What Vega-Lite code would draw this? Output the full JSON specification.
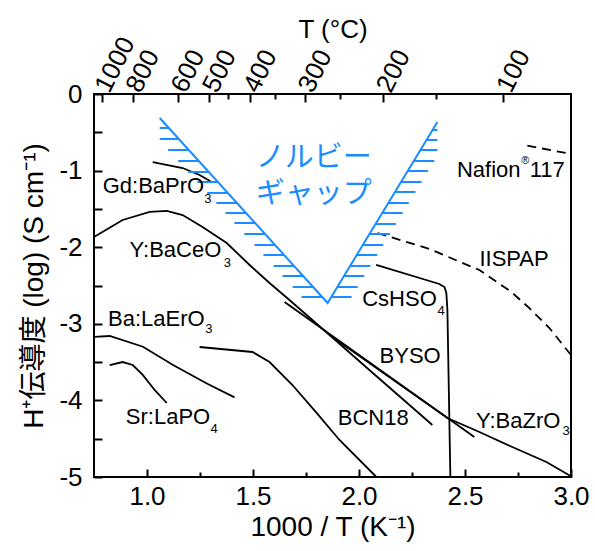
{
  "$schema": "https://vega.github.io/schema/vega-lite/v6.json",
  "width": 477,
  "height": 383,
  "autosize": "none",
  "padding": {"left": 94, "top": 94, "right": 24, "bottom": 74},
  "background": "white",
  "config": {
    "view": {"stroke": "black", "strokeWidth": 2},
    "font": "Liberation Sans",
    "axis": {
      "domain": false,
      "grid": false,
      "tickColor": "black",
      "tickWidth": 2,
      "labelColor": "black",
      "titleColor": "black",
      "labelFont": "Liberation Sans",
      "titleFont": "Liberation Sans, Noto Sans CJK JP",
      "labelFontSize": 26,
      "titleFontSize": 28,
      "titleFontWeight": "normal",
      "labelFlush": false,
      "labelOverlap": false
    }
  },
  "datasets": {
    "curves": [
      {"s": "Gd", "o": 1, "x": 1.027, "y": -0.888},
      {"s": "Gd", "o": 2, "x": 1.168, "y": -0.966},
      {"s": "Gd", "o": 3, "x": 1.248, "y": -1.057},
      {"s": "Gd", "o": 4, "x": 1.305, "y": -1.149},
      {"s": "YCe", "o": 1, "x": 0.75, "y": -1.867},
      {"s": "YCe", "o": 2, "x": 0.885, "y": -1.645},
      {"s": "YCe", "o": 3, "x": 1.013, "y": -1.54},
      {"s": "YCe", "o": 4, "x": 1.093, "y": -1.527},
      {"s": "YCe", "o": 5, "x": 1.168, "y": -1.58},
      {"s": "YCe", "o": 6, "x": 1.262, "y": -1.736},
      {"s": "YCe", "o": 7, "x": 1.376, "y": -1.945},
      {"s": "YCe", "o": 8, "x": 1.484, "y": -2.232},
      {"s": "YCe", "o": 9, "x": 1.578, "y": -2.467},
      {"s": "YCe", "o": 10, "x": 1.672, "y": -2.689},
      {"s": "YCe", "o": 11, "x": 1.861, "y": -3.146},
      {"s": "YCe", "o": 12, "x": 2.049, "y": -3.603},
      {"s": "YCe", "o": 13, "x": 2.346, "y": -4.321},
      {"s": "BYSO", "o": 1, "x": 1.649, "y": -2.715},
      {"s": "BYSO", "o": 2, "x": 2.544, "y": -4.478},
      {"s": "YZr", "o": 1, "x": 1.861, "y": -3.146},
      {"s": "YZr", "o": 2, "x": 2.417, "y": -4.23},
      {"s": "YZr", "o": 3, "x": 2.568, "y": -4.413},
      {"s": "YZr", "o": 4, "x": 2.723, "y": -4.608},
      {"s": "YZr", "o": 5, "x": 2.884, "y": -4.804},
      {"s": "YZr", "o": 6, "x": 3.0, "y": -4.99},
      {"s": "BaLa", "o": 1, "x": 0.75, "y": -3.172},
      {"s": "BaLa", "o": 2, "x": 0.824, "y": -3.159},
      {"s": "BaLa", "o": 3, "x": 0.981, "y": -3.299},
      {"s": "BaLa", "o": 4, "x": 1.123, "y": -3.538},
      {"s": "BaLa", "o": 5, "x": 1.28, "y": -3.777},
      {"s": "BaLa", "o": 6, "x": 1.413, "y": -3.96},
      {"s": "SrLa", "o": 1, "x": 0.824, "y": -3.538},
      {"s": "SrLa", "o": 2, "x": 0.885, "y": -3.499},
      {"s": "SrLa", "o": 3, "x": 0.933, "y": -3.538},
      {"s": "SrLa", "o": 4, "x": 0.98, "y": -3.668},
      {"s": "SrLa", "o": 5, "x": 1.036, "y": -3.864},
      {"s": "SrLa", "o": 6, "x": 1.093, "y": -4.034},
      {"s": "BCN", "o": 1, "x": 1.248, "y": -3.303},
      {"s": "BCN", "o": 2, "x": 1.498, "y": -3.368},
      {"s": "BCN", "o": 3, "x": 1.578, "y": -3.499},
      {"s": "BCN", "o": 4, "x": 1.686, "y": -3.799},
      {"s": "BCN", "o": 5, "x": 1.8, "y": -4.164},
      {"s": "BCN", "o": 6, "x": 1.908, "y": -4.517},
      {"s": "BCN", "o": 7, "x": 2.082, "y": -5.0},
      {"s": "Cs", "o": 1, "x": 2.081, "y": -2.232},
      {"s": "Cs", "o": 2, "x": 2.379, "y": -2.48},
      {"s": "Cs", "o": 3, "x": 2.403, "y": -2.52},
      {"s": "Cs", "o": 4, "x": 2.412, "y": -2.598},
      {"s": "Cs", "o": 5, "x": 2.417, "y": -2.82},
      {"s": "Cs", "o": 6, "x": 2.431, "y": -5.0}
    ],
    "dashed": [
      {"s": "IISPAP", "o": 1, "x": 2.087, "y": -1.815},
      {"s": "IISPAP", "o": 2, "x": 2.332, "y": -2.023},
      {"s": "IISPAP", "o": 3, "x": 2.568, "y": -2.298},
      {"s": "IISPAP", "o": 4, "x": 2.719, "y": -2.585},
      {"s": "IISPAP", "o": 5, "x": 2.803, "y": -2.794},
      {"s": "IISPAP", "o": 6, "x": 2.898, "y": -3.055},
      {"s": "IISPAP", "o": 7, "x": 3.0, "y": -3.407},
      {"s": "Nafion", "o": 1, "x": 2.794, "y": -0.675},
      {"s": "Nafion", "o": 2, "x": 3.0, "y": -0.783}
    ],
    "vee": [
      {"o": 1, "x": 1.06, "y": -0.313},
      {"o": 2, "x": 1.852, "y": -2.728},
      {"o": 3, "x": 2.37, "y": -0.366}
    ],
    "hatch": [
      {"x": 1.06, "x2": 1.103, "y": -0.444},
      {"x": 1.06, "x2": 1.15, "y": -0.587},
      {"x": 1.1, "x2": 1.197, "y": -0.731},
      {"x": 1.147, "x2": 1.244, "y": -0.875},
      {"x": 1.194, "x2": 1.291, "y": -1.018},
      {"x": 1.237, "x2": 1.334, "y": -1.149},
      {"x": 1.284, "x2": 1.381, "y": -1.292},
      {"x": 1.327, "x2": 1.424, "y": -1.423},
      {"x": 1.37, "x2": 1.467, "y": -1.554},
      {"x": 1.412, "x2": 1.509, "y": -1.684},
      {"x": 1.459, "x2": 1.556, "y": -1.828},
      {"x": 1.507, "x2": 1.603, "y": -1.971},
      {"x": 1.549, "x2": 1.646, "y": -2.102},
      {"x": 1.597, "x2": 1.693, "y": -2.245},
      {"x": 1.639, "x2": 1.736, "y": -2.376},
      {"x": 1.687, "x2": 1.783, "y": -2.52},
      {"x": 1.729, "x2": 1.826, "y": -2.65},
      {"x": 2.347, "x2": 2.37, "y": -0.47},
      {"x": 2.319, "x2": 2.37, "y": -0.601},
      {"x": 2.29, "x2": 2.37, "y": -0.731},
      {"x": 2.258, "x2": 2.355, "y": -0.875},
      {"x": 2.23, "x2": 2.326, "y": -1.005},
      {"x": 2.198, "x2": 2.295, "y": -1.149},
      {"x": 2.17, "x2": 2.266, "y": -1.279},
      {"x": 2.138, "x2": 2.235, "y": -1.423},
      {"x": 2.109, "x2": 2.206, "y": -1.554},
      {"x": 2.078, "x2": 2.174, "y": -1.697},
      {"x": 2.049, "x2": 2.146, "y": -1.828},
      {"x": 2.017, "x2": 2.114, "y": -1.971},
      {"x": 1.989, "x2": 2.086, "y": -2.102},
      {"x": 1.958, "x2": 2.054, "y": -2.245},
      {"x": 1.929, "x2": 2.025, "y": -2.376},
      {"x": 1.897, "x2": 1.994, "y": -2.52},
      {"x": 1.869, "x2": 1.965, "y": -2.65}
    ],
    "labels": [
      {"t": "Gd:BaPrO", "x": 0.791, "y": -1.292},
      {"t": "Y:BaCeO", "x": 0.918, "y": -2.124},
      {"t": "Ba:LaErO", "x": 0.816, "y": -3.029},
      {"t": "Sr:LaPO", "x": 0.9, "y": -4.308},
      {"t": "BCN18", "x": 1.9, "y": -4.321},
      {"t": "Y:BaZrO", "x": 2.552, "y": -4.364},
      {"t": "BYSO", "x": 2.097, "y": -3.508},
      {"t": "CsHSO", "x": 2.015, "y": -2.768},
      {"t": "IISPAP", "x": 2.568, "y": -2.245},
      {"t": "Nafion", "x": 2.462, "y": -1.088},
      {"t": "117", "x": 2.805, "y": -1.088}
    ],
    "subs": [
      {"t": "3", "x": 1.27, "y": -1.423},
      {"t": "3", "x": 1.362, "y": -2.258},
      {"t": "3", "x": 1.275, "y": -3.12},
      {"t": "4", "x": 1.3, "y": -4.426},
      {"t": "3", "x": 2.96, "y": -4.452},
      {"t": "4", "x": 2.37, "y": -2.885}
    ],
    "sups": [
      {"t": "®", "x": 2.765, "y": -0.914}
    ],
    "jp": [
      {"t": "ノルビー", "x": 1.786, "y": -0.836},
      {"t": "ギャップ", "x": 1.786, "y": -1.305}
    ]
  },
  "layer": [
    {
      "data": {"name": "curves"},
      "mark": {"type": "line", "color": "black", "strokeWidth": 1.8},
      "encoding": {
        "x": {
          "field": "x", "type": "quantitative",
          "scale": {"domain": [0.75, 3.0], "nice": false, "zero": false},
          "axis": {
            "orient": "bottom",
            "values": [1, 1.5, 2, 2.5, 3],
            "format": ".1f",
            "tickSize": -8,
            "labelPadding": 14,
            "title": "1000 / T (K⁻¹)",
            "titlePadding": 4
          }
        },
        "y": {
          "field": "y", "type": "quantitative",
          "scale": {"domain": [-5, 0], "nice": false, "zero": false},
          "axis": {
            "orient": "left",
            "values": [0, -0.5, -1, -1.5, -2, -2.5, -3, -3.5, -4, -4.5, -5],
            "labelExpr": "datum.value % 1 == 0 ? toString(datum.value) : ''",
            "tickSize": -8,
            "labelPadding": 20,
            "title": "H⁺伝導度 (log) (S cm⁻¹)",
            "titlePadding": 10
          }
        },
        "detail": {"field": "s"},
        "order": {"field": "o", "type": "quantitative"}
      }
    },
    {
      "data": {"name": "dashed"},
      "mark": {"type": "line", "color": "black", "strokeWidth": 1.8, "strokeDash": [9, 6]},
      "encoding": {
        "x": {
          "field": "x", "type": "quantitative",
          "scale": {"domain": [0.75, 3.0], "nice": false, "zero": false},
          "axis": {
            "orient": "top",
            "values": [0.785546, 0.931966, 1.145475, 1.293661, 1.485884, 1.745201, 2.114165, 2.680965],
            "labelExpr": "round(1000 / datum.value - 273)",
            "tickSize": -8,
            "labelPadding": 12,
            "labelAngle": -63,
            "labelAlign": "left",
            "labelBaseline": "middle",
            "title": "T (°C)",
            "titleFontSize": 26,
            "titlePadding": -10
          }
        },
        "y": {
          "field": "y", "type": "quantitative",
          "scale": {"domain": [-5, 0], "nice": false, "zero": false},
          "axis": null
        },
        "detail": {"field": "s"},
        "order": {"field": "o", "type": "quantitative"}
      }
    },
    {
      "data": {"name": "vee"},
      "mark": {"type": "line", "color": "#1a8cff", "strokeWidth": 2},
      "encoding": {
        "x": {
          "field": "x", "type": "quantitative",
          "scale": {"domain": [0.75, 3.0], "nice": false, "zero": false},
          "axis": {
            "orient": "bottom",
            "values": [1.25, 1.75, 2.25, 2.75],
            "labels": false,
            "tickSize": -5,
            "title": null
          }
        },
        "y": {
          "field": "y", "type": "quantitative",
          "scale": {"domain": [-5, 0], "nice": false, "zero": false},
          "axis": null
        },
        "order": {"field": "o", "type": "quantitative"}
      }
    },
    {
      "data": {"name": "hatch"},
      "mark": {"type": "rule", "color": "#1a8cff", "strokeWidth": 2},
      "encoding": {
        "x": {
          "field": "x", "type": "quantitative",
          "scale": {"domain": [0.75, 3.0], "nice": false, "zero": false},
          "axis": {
            "orient": "top",
            "values": [1.383126, 1.605136, 1.912046, 2.364066],
            "labels": false,
            "tickSize": -5,
            "title": null
          }
        },
        "x2": {"field": "x2"},
        "y": {
          "field": "y", "type": "quantitative",
          "scale": {"domain": [-5, 0], "nice": false, "zero": false},
          "axis": null
        }
      }
    },
    {
      "data": {"name": "labels"},
      "mark": {"type": "text", "align": "left", "baseline": "alphabetic", "fontSize": 22, "font": "Liberation Sans", "color": "black"},
      "encoding": {
        "x": {"field": "x", "type": "quantitative", "axis": null},
        "y": {"field": "y", "type": "quantitative", "axis": null},
        "text": {"field": "t"}
      }
    },
    {
      "data": {"name": "subs"},
      "mark": {"type": "text", "align": "left", "baseline": "alphabetic", "fontSize": 13, "font": "Liberation Sans", "color": "black"},
      "encoding": {
        "x": {"field": "x", "type": "quantitative", "axis": null},
        "y": {"field": "y", "type": "quantitative", "axis": null},
        "text": {"field": "t"}
      }
    },
    {
      "data": {"name": "sups"},
      "mark": {"type": "text", "align": "left", "baseline": "alphabetic", "fontSize": 11, "font": "Liberation Sans", "color": "black"},
      "encoding": {
        "x": {"field": "x", "type": "quantitative", "axis": null},
        "y": {"field": "y", "type": "quantitative", "axis": null},
        "text": {"field": "t"}
      }
    },
    {
      "data": {"name": "jp"},
      "mark": {"type": "text", "align": "center", "baseline": "middle", "fontSize": 29, "font": "Noto Sans CJK JP", "color": "#1a8cff"},
      "encoding": {
        "x": {"field": "x", "type": "quantitative", "axis": null},
        "y": {"field": "y", "type": "quantitative", "axis": null},
        "text": {"field": "t"}
      }
    }
  ],
  "resolve": {"axis": {"x": "independent", "y": "independent"}}
}
